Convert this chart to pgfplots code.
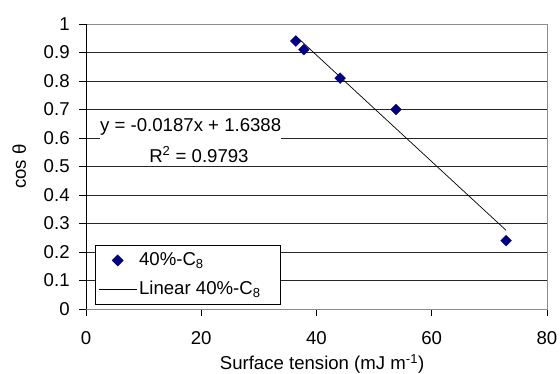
\documentclass[border=0pt]{standalone}
\usepackage{pgfplots}
\pgfplotsset{compat=1.18}
\usepackage{fontspec}
\setmainfont{Liberation Sans}
\definecolor{navyc}{HTML}{000080}
\begin{document}
\fontsize{18.6}{21}\selectfont
\begin{tikzpicture}
\path[use as bounding box] (-86pt,-65pt) rectangle (474pt,309pt);
\begin{axis}[
 at={(0pt,0pt)}, anchor=south west,
 scale only axis, width=461pt, height=285pt,
 xmin=0, xmax=80, ymin=0, ymax=1,
 xtick={0,20,40,60,80},
 ytick={0,0.1,0.2,0.3,0.4,0.5,0.6,0.7,0.8,0.9,1},
 yticklabels={0,0.1,0.2,0.3,0.4,0.5,0.6,0.7,0.8,0.9,1},
 tick align=outside, xtick pos=left, ytick pos=left,
 major tick length=7pt,
 tick style={black, line width=0.8pt},
 axis line style={black!45, line width=0.8pt},
 ymajorgrids, grid style={black!85, line width=0.8pt},
 tick label style={font=\fontsize{18.6}{21}\selectfont},
 xticklabel style={yshift=-9pt},
 yticklabel style={xshift=-3pt},
 /pgf/number format/assume math mode=true,
 label style={font=\fontsize{18.6}{21}\selectfont},
 xlabel={Surface tension (mJ m\textsuperscript{-1})},
 ylabel={cos θ},
 xlabel style={at={(axis description cs:0.512,-0.193)}, anchor=center},
 ylabel style={at={(axis description cs:-0.145,0.5)}, anchor=center},
 legend style={at={(0.0195,0.014)}, anchor=south west, draw=black, line width=0.8pt, fill=white,
   font=\fontsize{18.6}{21}\selectfont, inner xsep=3pt, inner ysep=5pt, row sep=9pt,
   nodes={inner sep=2pt}},
 legend cell align=left,
]
\addplot[only marks, mark=square*, mark size=3.8pt, color=navyc,
  mark options={rotate=45, fill=navyc, draw=navyc},
  legend image code/.code={\draw plot[only marks, mark=square*, mark size=3.8pt, mark options={rotate=45, fill=navyc, draw=navyc}] coordinates {(19pt,0pt)};}]
 coordinates {(36.4,0.94) (37.8,0.91) (44.1,0.81) (53.8,0.70) (72.9,0.24)};
\addlegendentry{40\%-C\textsubscript{8}}
\addplot[black, line width=0.7pt,
  legend image code/.code={\draw[black, line width=0.7pt] (0pt,0pt) -- (38pt,0pt);}]
 coordinates {(36.4,0.958) (72.9,0.276)};
\addlegendentry{Linear 40\%-C\textsubscript{8}\hspace*{15pt}}
\draw[black!45, line width=0.8pt] (rel axis cs:0,1) -- (rel axis cs:1,1);
\draw[black, line width=0.8pt] (rel axis cs:0,0) -- (rel axis cs:0,1);
\draw[black, line width=0.8pt] (rel axis cs:0,0) -- (rel axis cs:1,0);
\node[anchor=base west, fill=white, inner xsep=0pt, inner ysep=4pt] at (axis cs:2.43,0.622) {y = -0.0187x + 1.6388};
\node[anchor=base] at (axis cs:19.6,0.515) {R\textsuperscript{2} = 0.9793};
\end{axis}
\end{tikzpicture}
\end{document}
